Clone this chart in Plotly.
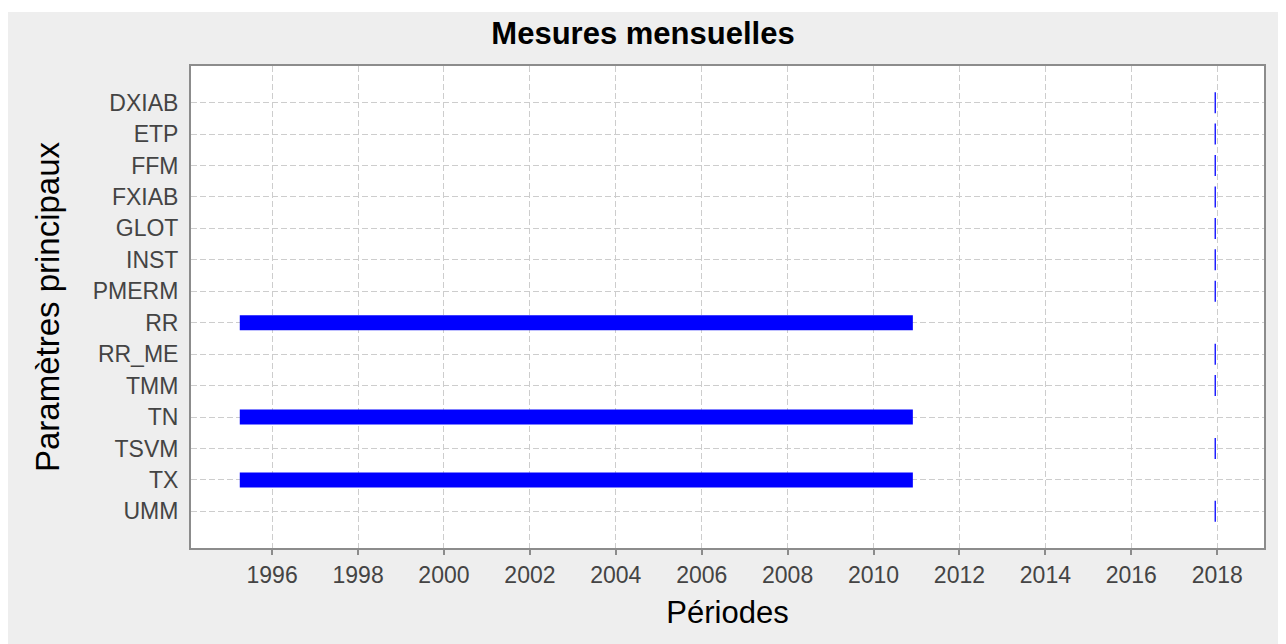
import pandas as pd
import plotly.graph_objects as go

# ---- data ----
parametres = ["DXIAB", "ETP", "FFM", "FXIAB", "GLOT", "INST", "PMERM",
              "RR", "RR_ME", "TMM", "TN", "TSVM", "TX", "UMM"]
debuts = ["2017-12-15", "2017-12-15", "2017-12-15", "2017-12-15", "2017-12-15",
          "2017-12-15", "2017-12-15", "1995-04-01", "2017-12-15", "2017-12-15",
          "1995-04-01", "2017-12-15", "1995-04-01", "2017-12-15"]
fins = ["2017-12-15", "2017-12-15", "2017-12-15", "2017-12-15", "2017-12-15",
        "2017-12-15", "2017-12-15", "2010-12-01", "2017-12-15", "2017-12-15",
        "2010-12-01", "2017-12-15", "2010-12-01", "2017-12-15"]
annees_ticks = [str(y) for y in range(1996, 2019, 2)]

# ---- build traces ----
d0 = pd.to_datetime(debuts)
d1 = pd.to_datetime(fins)

seg_x, seg_y, pt_x, pt_y = [], [], [], []
for p, a, b in zip(parametres, d0, d1):
    if b > a:
        seg_x += [a, b, None]
        seg_y += [p, p, None]
    else:
        pt_x.append(a)
        pt_y.append(p)

BLUE = "#0000ff"
fig = go.Figure()
fig.add_trace(go.Scatter(x=seg_x, y=seg_y, mode="lines",
                         line=dict(color=BLUE, width=15),
                         connectgaps=False, showlegend=False, hoverinfo="skip"))
fig.add_trace(go.Scatter(x=pt_x, y=pt_y, mode="markers",
                         marker=dict(symbol="line-ns", size=15,
                                     line=dict(color=BLUE, width=1.3)),
                         showlegend=False, hoverinfo="skip"))

# x range with 5% padding
tmin, tmax = d0.min(), d1.max()
span = tmax - tmin
xr = [tmin - 0.05 * span, tmax + 0.05 * span]

n = len(parametres)
pad = 1.165

FONT = "Liberation Sans, Arial, sans-serif"
GRID = "#cdcdcd"
AXIS = "#8c8c8c"

# page is offset by the body margin (8px); compensate
W, H = 1278, 636
L, R, T, B = 183, 22, 58, 96
pw, ph = W - L - R, H - T - B

fig.update_layout(
    width=W, height=H,
    margin=dict(l=L, r=R, t=T, b=B, autoexpand=False),
    paper_bgcolor="#eeeeee",
    plot_bgcolor="white",
    font=dict(family=FONT, color="#444444", size=23),
    title=dict(text="Mesures mensuelles", x=(643 - 8) / W, xref="container",
               xanchor="center", y=(H - 25) / H, yanchor="middle",
               font=dict(family=FONT, size=31, color="black", weight="bold")),
    xaxis=dict(
        type="date", range=xr,
        tickmode="array", tickvals=[pd.Timestamp(y + "-01-01") for y in annees_ticks],
        ticktext=annees_ticks,
        showgrid=True, gridcolor=GRID, griddash="6px,3px", gridwidth=1,
        showline=True, linecolor=AXIS, linewidth=2, mirror=True,
        ticks="outside", ticklen=5, tickwidth=2, tickcolor=AXIS,
        tickfont=dict(size=23, color="#444444"),
        title=dict(text="Périodes", font=dict(size=31, color="black"), standoff=15),
        zeroline=False,
    ),
    yaxis=dict(
        type="category", categoryorder="array", categoryarray=parametres,
        range=[n - 1 + pad, -pad],
        showgrid=True, gridcolor=GRID, griddash="6px,3px", gridwidth=1,
        showline=True, linecolor=AXIS, linewidth=2, mirror=True,
        ticks="", ticklabelstandoff=6,
        tickfont=dict(size=23, color="#444444"),
        title=dict(text="Paramètres principaux", font=dict(size=33, color="black"),
                   standoff=23),
        zeroline=False,
    ),
    shapes=[
        dict(type="rect", xref="paper", yref="paper", layer="below",
             x0=-L / pw - 0.05, x1=1.2,
             y0=(ph + T - 4) / ph, y1=(ph + T + 20) / ph,
             fillcolor="white", line=dict(width=0)),
    ],
)

fig.write_html("out.html")
